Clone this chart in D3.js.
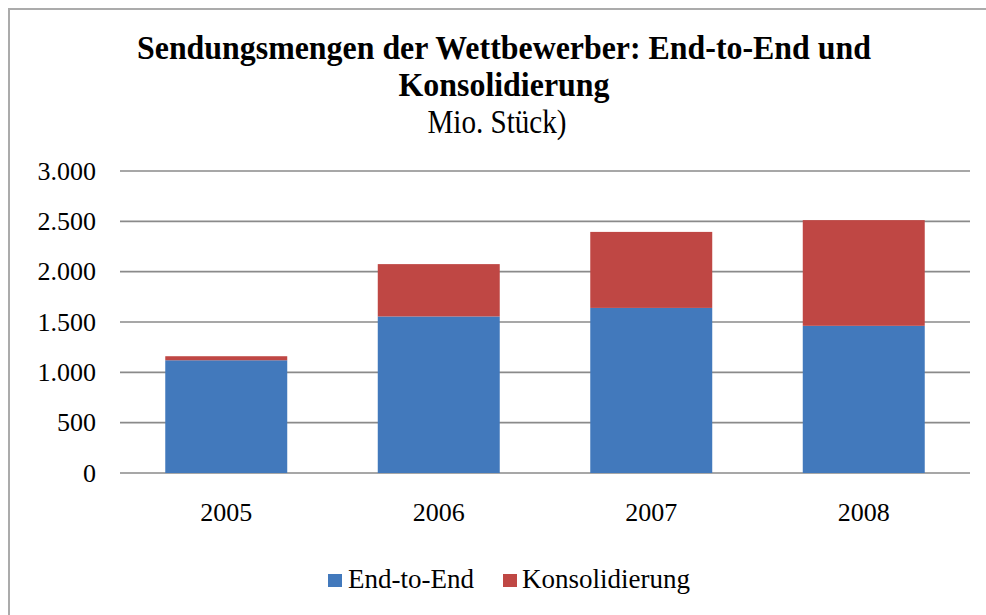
<!DOCTYPE html>
<html>
<head>
<meta charset="utf-8">
<script src="https://cdn.jsdelivr.net/npm/d3@7"></script>
<style>
  body { margin: 0; background: #fff; }
  svg { display: block; font-family: "Liberation Serif", "Times New Roman", serif; }
</style>
</head>
<body>
<div id="chart"></div>
<script>
// data
var years = ['2005', '2006', '2007', '2008'];
var endToEnd = [1120, 1555, 1640, 1462];
var konsolidierung = [40, 520, 755, 1050];
var seriesNames = ['End-to-End', 'Konsolidierung'];
var yTicks = [0, 500, 1000, 1500, 2000, 2500, 3000];

var colors = ['#4279BC', '#BF4744'];

const width = 986;
const height = 615;

const svg = d3.select('#chart').append('svg')
    .attr('width', width)
    .attr('height', height);

// outer frame (cut off on the right and bottom)
svg.append('rect')
    .attr('x', 9)
    .attr('y', 9)
    .attr('width', 1000)
    .attr('height', 700)
    .attr('fill', 'none')
    .attr('stroke', '#ababab')
    .attr('stroke-width', 2);

// title, squeezed a bit like the original
svg.append('text')
    .attr('x', 504).attr('y', 59)
    .attr('text-anchor', 'middle')
    .attr('font-weight', 'bold')
    .attr('font-size', 34)
    .attr('textLength', 734)
    .attr('lengthAdjust', 'spacingAndGlyphs')
    .text('Sendungsmengen der Wettbewerber: End-to-End und');

svg.append('text')
    .attr('x', 504).attr('y', 96)
    .attr('text-anchor', 'middle')
    .attr('font-weight', 'bold')
    .attr('font-size', 34)
    .attr('textLength', 211)
    .attr('lengthAdjust', 'spacingAndGlyphs')
    .text('Konsolidierung');

svg.append('text')
    .attr('x', 497).attr('y', 133)
    .attr('text-anchor', 'middle')
    .attr('font-size', 33)
    .attr('textLength', 139)
    .attr('lengthAdjust', 'spacingAndGlyphs')
    .text('Mio. Stück)');

// plot area
const plot = { left: 120, right: 970, top: 171, bottom: 473 };

const x = d3.scaleBand()
    .domain(years)
    .range([plot.left, plot.right])
    .paddingInner(0.426)
    .paddingOuter(0.213);

const y = d3.scaleLinear()
    .domain([0, 3000])
    .range([plot.bottom, plot.top]);

const fmt = d3.formatLocale({ decimal: ',', thousands: '.', grouping: [3], currency: ['', ' €'] }).format(',d');

// gridlines
svg.append('g')
    .selectAll('line')
    .data(yTicks)
    .enter().append('line')
    .attr('x1', plot.left)
    .attr('x2', plot.right)
    .attr('y1', d => y(d))
    .attr('y2', d => y(d))
    .attr('stroke', '#8a8a8a')
    .attr('stroke-width', 1.6);

// y axis labels
const yAxis = svg.append('g')
    .attr('transform', `translate(${plot.left}, 0)`)
    .call(d3.axisLeft(y).tickValues(yTicks).tickFormat(fmt).tickSize(0).tickPadding(24));
yAxis.select('.domain').remove();
yAxis.selectAll('text')
    .attr('font-family', '"Liberation Serif", serif')
    .attr('font-size', 26)
    .attr('fill', '#000');

// x axis labels
const xAxis = svg.append('g')
    .attr('transform', `translate(0, ${plot.bottom})`)
    .call(d3.axisBottom(x).tickSize(0).tickPadding(30));
xAxis.select('.domain').remove();
xAxis.selectAll('text')
    .attr('font-family', '"Liberation Serif", serif')
    .attr('font-size', 26)
    .attr('fill', '#000');

// stacked bars
const rows = years.map((yr, i) => ({ year: yr, 'End-to-End': endToEnd[i], 'Konsolidierung': konsolidierung[i] }));
const stacked = d3.stack().keys(seriesNames)(rows);

svg.append('g')
    .selectAll('g')
    .data(stacked)
    .enter().append('g')
    .attr('fill', (d, i) => colors[i])
    .selectAll('rect')
    .data(d => d)
    .enter().append('rect')
    .attr('x', d => x(d.data.year))
    .attr('width', x.bandwidth())
    .attr('y', d => y(d[1]))
    .attr('height', d => y(d[0]) - y(d[1]));

// legend
const legendX = [328, 503];
const legend = svg.append('g')
    .selectAll('g')
    .data(seriesNames)
    .enter().append('g')
    .attr('transform', (d, i) => `translate(${legendX[i]}, 574)`);

legend.append('rect')
    .attr('width', 14)
    .attr('height', 13)
    .attr('fill', (d, i) => colors[i]);

legend.append('text')
    .attr('x', (d, i) => i === 0 ? 20 : 19)
    .attr('y', 14)
    .attr('font-size', 27)
    .text(d => d);
</script>
</body>
</html>
